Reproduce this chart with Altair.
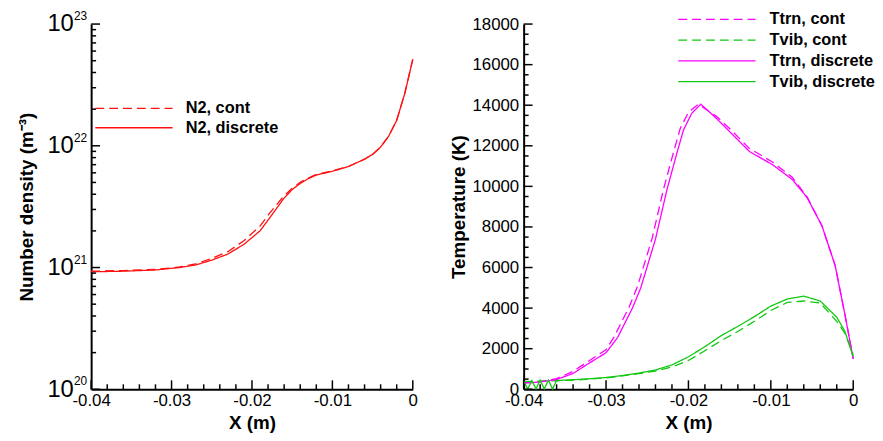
import altair as alt
import pandas as pd

FONT = "Liberation Sans"

# ---------------- Left panel: N2 number density ----------------
N2_SERIES = ["N2, cont", "N2, discrete"]
X_N2 = [-0.040, -0.036, -0.032, -0.029, -0.027, -0.025, -0.023, -0.021, -0.019,
        -0.018, -0.017, -0.016, -0.015, -0.014, -0.013, -0.012, -0.010, -0.008,
        -0.006, -0.005, -0.004, -0.003, -0.002, -0.001, 0.000]
N2_CONT = [9.33e20, 9.44e20, 9.66e20, 1.01e21, 1.07e21, 1.19e21, 1.35e21, 1.66e21, 2.19e21,
           2.69e21, 3.24e21, 3.89e21, 4.47e21, 5.01e21, 5.43e21, 5.82e21, 6.24e21, 6.76e21,
           7.76e21, 8.51e21, 9.77e21, 1.20e22, 1.62e22, 2.69e22, 5.13e22]
N2_DISC = [9.23e20, 9.33e20, 9.55e20, 1.00e21, 1.05e21, 1.15e21, 1.29e21, 1.55e21, 2.00e21,
           2.45e21, 3.02e21, 3.72e21, 4.37e21, 4.90e21, 5.37e21, 5.75e21, 6.17e21, 6.76e21,
           7.76e21, 8.51e21, 9.77e21, 1.20e22, 1.62e22, 2.69e22, 5.13e22]

# ---------------- Right panel: temperatures ----------------
T_SERIES = ["Ttrn, cont", "Tvib, cont", "Ttrn, discrete", "Tvib, discrete"]
X_TTRN_CONT = [-0.0400, -0.0380, -0.0360, -0.0340, -0.0320, -0.0300, -0.0290, -0.0272, -0.0262,
               -0.0244, -0.0230, -0.0218, -0.0210, -0.0200, -0.0188, -0.0166, -0.0150, -0.0126,
               -0.0098, -0.0074, -0.0056, -0.0038, -0.0022, -0.0010, 0.0000]
TTRN_CONT = [320, 380, 530, 880, 1420, 1950, 2600, 4050, 5050,
             7450, 9900, 11700, 12850, 13650, 14050, 13450, 12850, 11870,
             11200, 10450, 9480, 8060, 6110, 3670, 1500]
X_TTRN_DISC = [-0.0400, -0.0380, -0.0360, -0.0340, -0.0320, -0.0300, -0.0286, -0.0268, -0.0258,
               -0.0240, -0.0226, -0.0214, -0.0206, -0.0196, -0.0185, -0.0166, -0.0150, -0.0126,
               -0.0098, -0.0074, -0.0056, -0.0038, -0.0022, -0.0010, 0.0000]
TTRN_DISC = [300, 360, 480, 780, 1300, 1800, 2550, 4000, 4980,
             7400, 9850, 11640, 12780, 13600, 14050, 13350, 12700, 11720,
             11070, 10340, 9450, 8060, 6110, 3670, 1500]
X_TVIB_CONT = [-0.0400, -0.0360, -0.0340, -0.0320, -0.0300, -0.0280, -0.0260, -0.0240, -0.0220,
               -0.0200, -0.0180, -0.0160, -0.0140, -0.0120, -0.0100, -0.0080, -0.0060, -0.0040,
               -0.0020, -0.0010, 0.0000]
TVIB_CONT = [380, 420, 450, 500, 560, 660, 770, 900, 1100,
             1420, 1900, 2400, 2850, 3350, 3880, 4280, 4350, 4250,
             3350, 2750, 1700]
X_TVIB_DISC = [-0.0400, -0.0395, -0.0390, -0.0385, -0.0380, -0.0375, -0.0370, -0.0365, -0.0360,
               -0.0340, -0.0320, -0.0300, -0.0280, -0.0260, -0.0240, -0.0220, -0.0200, -0.0180,
               -0.0160, -0.0140, -0.0120, -0.0100, -0.0080, -0.0060, -0.0040, -0.0020, -0.0010, 0.0000]
TVIB_DISC = [400, 20, 430, 20, 450, 20, 450, 20, 430,
             470, 520, 580, 680, 800, 950, 1200, 1600, 2100,
             2650, 3100, 3580, 4100, 4450, 4590, 4350, 3550, 2850, 1600]

# ---------------- Tick positions / labels ----------------
X_MAJOR = [-0.04, -0.03, -0.02, -0.01, 0.0]
X_MINOR = [-0.038, -0.036, -0.034, -0.032, -0.028, -0.026, -0.024, -0.022,
           -0.018, -0.016, -0.014, -0.012, -0.008, -0.006, -0.004, -0.002]
N_MAJOR = [1e20, 1e21, 1e22, 1e23]
N_EXP = ["20", "21", "22", "23"]
N_MINOR = [m * 10.0 ** e for e in (20, 21, 22) for m in (2, 3, 4, 5, 6, 7, 8, 9)]
T_MAJOR = [0, 2000, 4000, 6000, 8000, 10000, 12000, 14000, 16000, 18000]
T_MINOR = [500, 1000, 1500, 2500, 3000, 3500, 4500, 5000, 5500, 6500, 7000, 7500,
           8500, 9000, 9500, 10500, 11000, 11500, 12500, 13000, 13500, 14500, 15000,
           15500, 16500, 17000, 17500]

LW, LH = 325, 369
RW, RH = 333, 369
MAJ, MIN = 9, 5

X_LABEL = "datum.value == 0 ? '0' : '-' + format(-datum.value, '.2f')"

# legend line: path of 20 units scaled by sqrt(size)/2 -> 78 px long
SYM_PATH = "M-10,0H10"
SYM_SIZE = 61


def legend(x, y, row_pad, label_offset):
    return alt.Legend(title=None, orient="none", legendX=x, legendY=y,
                      symbolType=SYM_PATH, symbolSize=SYM_SIZE, symbolStrokeWidth=1.3,
                      labelFont=FONT, labelFontSize=16.5, labelFontWeight="bold",
                      labelColor="black", labelOffset=label_offset, padding=0,
                      rowPadding=row_pad)


def tick_layers(xname, yname, xscale, yscale, xaxis, yaxis, h, xmaj, xmin, ymaj, ymin):
    layers = []
    for vals, ln in ((xmaj, MAJ), (xmin, MIN)):
        layers.append(alt.Chart(pd.DataFrame({xname: vals})).mark_rule(
            color="black", strokeWidth=1.5).encode(
            x=alt.X(f"{xname}:Q", scale=xscale, axis=xaxis),
            y=alt.value(h), y2=alt.value(h - ln)))
    for vals, ln in ((ymaj, MAJ), (ymin, MIN)):
        layers.append(alt.Chart(pd.DataFrame({yname: vals})).mark_rule(
            color="black", strokeWidth=1.5).encode(
            y=alt.Y(f"{yname}:Q", scale=yscale, axis=yaxis),
            x=alt.value(0), x2=alt.value(ln)))
    return layers


# Left chart
left_df = pd.concat([
    pd.DataFrame({"x": X_N2, "n": N2_CONT, "series": N2_SERIES[0]}),
    pd.DataFrame({"x": X_N2, "n": N2_DISC, "series": N2_SERIES[1]}),
])
lx = alt.Scale(domain=[-0.04, 0], nice=False, zero=False)
ly = alt.Scale(type="log", domain=[1e20, 1e23], nice=False)
lxa = alt.Axis(values=X_MAJOR, labelExpr=X_LABEL, title="X (m)", ticks=False)
lya = alt.Axis(values=N_MAJOR, labelExpr="'10'", title="Number density (m⁻³)", ticks=False,
               labelFontSize=24, labelPadding=18, titlePadding=11)
left_lines = alt.Chart(left_df).mark_line(strokeWidth=1.3).encode(
    x=alt.X("x:Q", scale=lx, axis=lxa),
    y=alt.Y("n:Q", scale=ly, axis=lya),
    color=alt.Color("series:N", scale=alt.Scale(domain=N2_SERIES, range=["#ff1010", "#ff1010"]),
                    legend=legend(35, 77, 2.5, 44)),
    strokeDash=alt.StrokeDash("series:N", scale=alt.Scale(domain=N2_SERIES, range=[[9, 5], [1, 0]]),
                              legend=legend(35, 77, 2.5, 44)),
)
exponents = alt.Chart(pd.DataFrame({"n": N_MAJOR, "exp": N_EXP})).mark_text(
    align="right", baseline="middle", dx=-4, dy=-8, fontSize=12, font=FONT, color="black"
).encode(y=alt.Y("n:Q", scale=ly, axis=lya), x=alt.value(0), text="exp:N")
left = alt.layer(left_lines, exponents,
                 *tick_layers("x", "n", lx, ly, lxa, lya, LH,
                              X_MAJOR, X_MINOR, N_MAJOR, N_MINOR)).properties(
    width=LW, height=LH)

# Right chart
right_df = pd.concat([
    pd.DataFrame({"x": X_TTRN_CONT, "T": TTRN_CONT, "series": T_SERIES[0]}),
    pd.DataFrame({"x": X_TVIB_CONT, "T": TVIB_CONT, "series": T_SERIES[1]}),
    pd.DataFrame({"x": X_TTRN_DISC, "T": TTRN_DISC, "series": T_SERIES[2]}),
    pd.DataFrame({"x": X_TVIB_DISC, "T": TVIB_DISC, "series": T_SERIES[3]}),
])
rx = alt.Scale(domain=[-0.04, 0], nice=False, zero=False)
ry = alt.Scale(domain=[0, 18000], nice=False)
rxa = alt.Axis(values=X_MAJOR, labelExpr=X_LABEL, title="X (m)", ticks=False)
rya = alt.Axis(values=T_MAJOR, format="d", title="Temperature (K)", ticks=False,
               labelPadding=5, titlePadding=3)
right_lines = alt.Chart(right_df).mark_line(strokeWidth=1.3).encode(
    x=alt.X("x:Q", scale=rx, axis=rxa),
    y=alt.Y("T:Q", scale=ry, axis=rya),
    color=alt.Color("series:N", scale=alt.Scale(domain=T_SERIES,
                                                range=["#ff00ff", "#10c810", "#ff00ff", "#10c810"]),
                    legend=legend(187, -13, 4, 45)),
    strokeDash=alt.StrokeDash("series:N", scale=alt.Scale(domain=T_SERIES,
                                                          range=[[9, 5], [9, 5], [1, 0], [1, 0]]),
                              legend=legend(187, -13, 4, 45)),
)
right = alt.layer(right_lines, *tick_layers("x", "T", rx, ry, rxa, rya, RH,
                                            X_MAJOR, X_MINOR, T_MAJOR, T_MINOR)).properties(
    width=RW, height=RH)

chart = alt.hconcat(left, right, spacing=32).resolve_scale(
    color="independent", strokeDash="independent"
).properties(
    padding={"left": 9, "top": 0, "right": 0, "bottom": 2}
).configure_view(stroke=None).configure_axis(
    domainColor="black", domainWidth=2, grid=False, labelFlush=False,
    labelFont=FONT, labelFontSize=17, labelColor="black", labelPadding=3,
    titleFont=FONT, titleFontSize=19, titleFontWeight="bold", titleColor="black",
    titlePadding=6,
)

chart.save("out.html", embed_options={"renderer": "svg", "actions": False})
